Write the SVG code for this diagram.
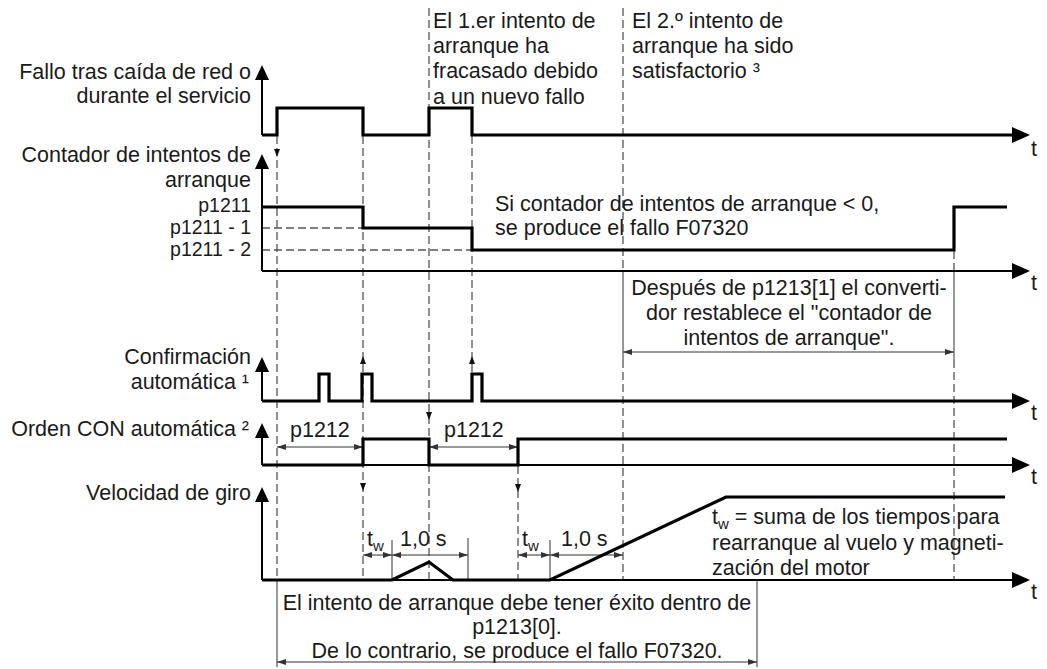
<svg xmlns="http://www.w3.org/2000/svg" width="1047" height="669" viewBox="0 0 1047 669">
<defs>
<style>
.sig{stroke:#000;stroke-width:3.2;fill:none;stroke-linejoin:miter;stroke-linecap:butt}
.ax{stroke:#000;stroke-width:2;fill:none}
.dash{stroke:#555;stroke-width:1.3;stroke-dasharray:8 4;fill:none}
.thin{stroke:#333;stroke-width:1;fill:none}
.dim{stroke:#333;stroke-width:1;fill:none;marker-start:url(#dimA);marker-end:url(#dimA)}
.tri{fill:#111}
text{font-family:"Liberation Sans",Arial,sans-serif;font-size:21.5px;fill:#1a1a1a}
.r{text-anchor:end}
.m{text-anchor:middle}
.sub{font-size:15px}
.lvl{font-size:19.5px}
</style>
<marker id="hax" viewBox="0 0 18 16" refX="1" refY="8" markerWidth="18" markerHeight="16" markerUnits="userSpaceOnUse" orient="auto"><path d="M0,0 L18,8 L0,16 z" fill="#000"/></marker>
<marker id="vax" viewBox="0 0 15 14" refX="1" refY="7" markerWidth="15" markerHeight="14" markerUnits="userSpaceOnUse" orient="auto"><path d="M0,0 L15,7 L0,14 z" fill="#000"/></marker>
<marker id="dimA" viewBox="0 0 9 6" refX="9" refY="3" markerWidth="9" markerHeight="6" markerUnits="userSpaceOnUse" orient="auto-start-reverse"><path d="M0,0 L9,3 L0,6 z" fill="#333"/></marker>
</defs>
<rect width="1047" height="669" fill="#fff"/>

<g id="connectors">
<path class="dash" d="M277,136 V580"/>
<path class="dash" d="M363,136 V580"/>
<path class="dash" d="M429,8 V580"/>
<path class="dash" d="M472,136 V374"/>
<path class="dash" d="M518,466 V580"/>
<path class="dash" d="M623,8 V271 M623,360 V580"/>
<path class="dash" d="M954,251 V271 M954,360 V580"/>
<path class="thin" d="M623,271 V360 M954,271 V360"/>
<path class="dash" d="M262,228 H363 M262,250 H472"/>
<path class="tri" d="M274,149 L280,149 L277,157 z"/>
<path class="tri" d="M360,364 L366,364 L363,356 z"/>
<path class="tri" d="M469,364 L475,364 L472,356 z"/>
<path class="tri" d="M426,412 L432,412 L429,420 z"/>
<path class="tri" d="M360,483 L366,483 L363,491 z"/>
<path class="tri" d="M515,484 L521,484 L518,492 z"/>
<path class="dim" d="M277,447 H363"/>
<path class="dim" d="M429,447 H518"/>
<path class="dim" d="M623,352 H954"/>
<path class="dim" d="M363,555 H392"/>
<path class="dim" d="M392,555 H468"/>
<path class="dim" d="M518,555 H550"/>
<path class="dim" d="M550,555 H623"/>
<path class="thin" d="M392,540 V580 M468,538 V580 M550,540 V580"/>
<path class="thin" d="M277,580 V667 M757,580 V667"/>
<path class="dim" d="M277,662 H757"/>
</g>

<g id="fault">
<path class="ax" d="M262,135 V79" marker-end="url(#vax)"/>
<path class="sig" d="M262,135 H277 V108 H363 V135 H429 V108 H472 V135 H1013" marker-end="url(#hax)"/>
<text class="r" x="251" y="79">Fallo tras caída de red o</text>
<text class="r" x="251" y="103">durante el servicio</text>
<text x="1031" y="156">t</text>
</g>

<g id="attempt1-note">
<text x="433" y="28">El 1.er intento de</text>
<text x="433" y="53">arranque ha</text>
<text x="433" y="78">fracasado debido</text>
<text x="433" y="104">a un nuevo fallo</text>
</g>

<g id="attempt2-note">
<text x="632" y="28">El 2.º intento de</text>
<text x="632" y="53">arranque ha sido</text>
<text x="632" y="78">satisfactorio ³</text>
</g>

<g id="counter">
<path class="ax" d="M262,271 V168" marker-end="url(#vax)"/>
<path class="ax" d="M262,271 H1013" marker-end="url(#hax)"/>
<path class="sig" d="M262,207 H363 V228 H472 V250 H954 V207 H1007"/>
<text class="r" x="251" y="162">Contador de intentos de</text>
<text class="r" x="251" y="187">arranque</text>
<text class="r lvl" x="251" y="212">p1211</text>
<text class="r lvl" x="251" y="234">p1211 - 1</text>
<text class="r lvl" x="251" y="256">p1211 - 2</text>
<text x="495" y="211">Si contador de intentos de arranque &lt; 0,</text>
<text x="495" y="235">se produce el fallo F07320</text>
<text x="1031" y="290">t</text>
</g>

<g id="reset-note">
<text class="m" x="789" y="295">Después de p1213[1] el converti-</text>
<text class="m" x="789" y="320">dor restablece el "contador de</text>
<text class="m" x="789" y="345">intentos de arranque".</text>
</g>

<g id="ack">
<path class="ax" d="M262,401 V371" marker-end="url(#vax)"/>
<path class="sig" d="M262,401 H319 V374 H329 V401 H362 V374 H372 V401 H472 V374 H482 V401 H1013" marker-end="url(#hax)"/>
<text class="r" x="251" y="364">Confirmación</text>
<text class="r" x="249" y="389">automática ¹</text>
<text x="1031" y="420">t</text>
</g>

<g id="on-cmd">
<path class="ax" d="M262,465 V437" marker-end="url(#vax)"/>
<path class="ax" d="M262,465 H1013" marker-end="url(#hax)"/>
<path class="sig" d="M262,465 H363 V439 H429 V465 H518 V439 H1007"/>
<text class="r" x="249" y="436">Orden CON automática ²</text>
<text x="290" y="437">p1212</text>
<text x="444" y="437">p1212</text>
<text x="1031" y="484">t</text>
</g>

<g id="speed">
<path class="ax" d="M262,580 V501" marker-end="url(#vax)"/>
<path class="ax" d="M262,580 H1013" marker-end="url(#hax)"/>
<path class="sig" d="M262,580 H392 L429,562 L453,580 H550 L726,497 H1005"/>
<text class="r" x="251" y="500">Velocidad de giro</text>
<text x="367" y="546">t<tspan class="sub" dy="5">w</tspan></text>
<text x="400" y="546">1,0 s</text>
<text x="522" y="546">t<tspan class="sub" dy="5">w</tspan></text>
<text x="561" y="546">1,0 s</text>
<text x="712" y="524">t<tspan class="sub" dy="5">w</tspan><tspan dy="-5"> = suma de los tiempos para</tspan></text>
<text x="712" y="550">rearranque al vuelo y magneti-</text>
<text x="712" y="575">zación del motor</text>
<text x="1031" y="599">t</text>
</g>

<g id="timeout-note">
<text class="m" x="517" y="610">El intento de arranque debe tener éxito dentro de</text>
<text class="m" x="517" y="634">p1213[0].</text>
<text class="m" x="517" y="658">De lo contrario, se produce el fallo F07320.</text>
</g>
</svg>
